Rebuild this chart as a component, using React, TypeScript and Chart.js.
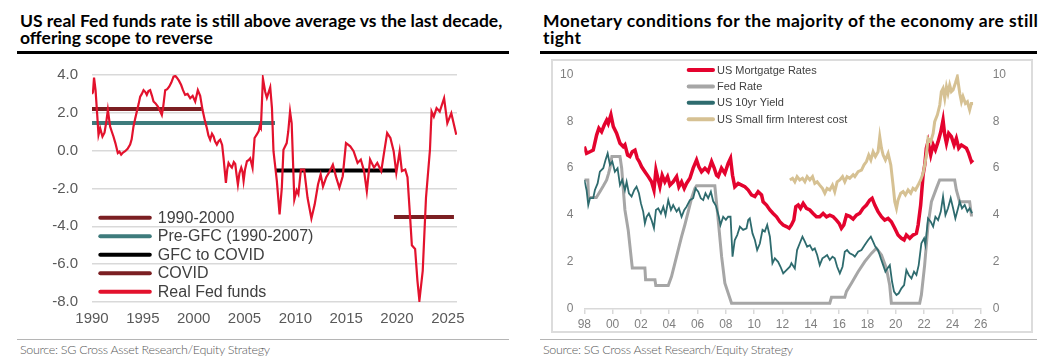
import React, { useEffect, useRef } from "react";
import { Chart, registerables } from "chart.js";

Chart.register(...registerables);

// ---------------- Left chart data ----------------
const leftTitle = ["US real Fed funds rate is still above average vs the last decade,", "offering scope to reverse"];
const rightTitle = ["Monetary conditions for the majority of the economy are still", "tight"];
const sourceText = "Source: SG Cross Asset Research/Equity Strategy";

const realFedYears = [
  1990.0, 1990.1, 1990.2, 1990.35, 1990.5, 1990.64, 1990.8, 1991.03, 1991.23, 1991.4, 1991.56, 1991.78, 1991.95,
  1992.11, 1992.3, 1992.54, 1992.7, 1992.87, 1993.05, 1993.26, 1993.5, 1993.75, 1993.9, 1994.08, 1994.25, 1994.41,
  1994.6, 1994.74, 1994.9, 1995.07, 1995.25, 1995.39, 1995.55, 1995.72, 1995.9, 1996.05, 1996.25, 1996.48, 1996.7,
  1996.87, 1997.0, 1997.2, 1997.4, 1997.59, 1997.8, 1998.02, 1998.2, 1998.35, 1998.55, 1998.77, 1998.95, 1999.16,
  1999.4, 1999.66, 1999.9, 2000.15, 2000.41, 2000.64, 2000.87, 2001.1, 2001.3, 2001.45, 2001.62, 2001.8, 2001.96,
  2002.1, 2002.28, 2002.45, 2002.61, 2002.8, 2002.94, 2003.17, 2003.3, 2003.43, 2003.6, 2003.76, 2003.95, 2004.09,
  2004.2, 2004.35, 2004.5, 2004.68, 2004.8, 2004.91, 2005.05, 2005.24, 2005.4, 2005.56, 2005.7, 2005.79, 2005.99,
  2006.2, 2006.39, 2006.5, 2006.61, 2006.81, 2007.04, 2007.2, 2007.53, 2007.7, 2007.85, 2008.18, 2008.45, 2008.67,
  2008.83, 2009.15, 2009.3, 2009.48, 2009.64, 2009.9, 2010.13, 2010.3, 2010.55, 2010.87, 2011.2, 2011.58, 2011.9,
  2012.23, 2012.49, 2012.72, 2013.04, 2013.37, 2013.69, 2014.01, 2014.33, 2014.66, 2014.98, 2015.4, 2015.73,
  2016.12, 2016.44, 2016.76, 2017.03, 2017.35, 2017.74, 2018.06, 2018.45, 2018.7, 2019.03, 2019.35, 2019.67,
  2019.93, 2020.26, 2020.48, 2020.81, 2021.03, 2021.29, 2021.46, 2021.78, 2022.01, 2022.2, 2022.53, 2022.85,
  2023.24, 2023.4, 2023.62, 2023.89, 2024.2, 2024.63, 2024.95, 2025.34, 2025.83,
];
const realFedValues = [
  3.0, 3.1, 3.86, 3.2, 2.0, 0.84, 1.19, 0.75, 0.95, 1.5, 2.16, 1.28, 1.0,
  0.75, 0.4, -0.12, -0.05, -0.21, -0.1, -0.03, 0.1, 0.32, 0.6, 1.28, 1.7, 2.07,
  2.5, 2.86, 3.0, 3.2, 3.1, 2.95, 3.15, 3.2, 2.9, 2.6, 2.5, 2.33, 2.1,
  1.89, 2.3, 3.2, 3.25, 3.38, 3.6, 3.91, 3.95, 3.86, 3.7, 3.47, 3.2, 2.95,
  3.0, 2.77, 2.9, 2.6, 3.2, 2.9, 2.16, 1.6, 1.19, 0.8, 0.58, 0.9, 0.75,
  0.5, 0.32, 0.5, 0.58, 0.3, -0.39, -1.7, -1.0, -0.65, -0.8, -0.9, -0.6, -0.7,
  -1.2, -1.79, -1.2, -0.9, -1.1, -1.6, -1.0, -0.56, -0.5, -0.4, -0.7, -0.9, 0.67,
  0.85, 1.02, 1.3, 1.19, 3.82, 3.1, 2.8, 3.35, 2.25, -0.03, -1.6, -3.37, -1.96,
  0.05, 0.4, 1.0, 2.07, 1.45, -2.58, -2.1, -2.3, -1.0, -1.0, -2.49, -3.58, -2.85,
  -1.79, -1.26, -1.9, -1.4, -1.1, -0.74, -1.4, -1.96, -1.35, 0.4, 0.23, -0.03,
  -0.65, -0.47, -1.08, -2.14, -0.47, -0.9, -0.65, -1.08, -0.2, 0.93, 0.67, -0.03,
  -1.17, -0.03, -1.08, -1.0, -1.4, -3.54, -5.0, -5.2, -6.88, -7.93, -6.35, -2.49,
  0.05, 2.07, 1.8, 2.25, 2.07, 2.77, 1.45, 1.98, 0.84,
];

const periodLabels = ["1990-2000", "Pre-GFC (1990-2007)", "GFC to COVID", "COVID"];
const periodStarts = [1990, 1990, 2008.0, 2019.7];
const periodEnds = [2000.8, 2008.0, 2020.0, 2025.6];
const periodValues = [2.2, 1.46, -1.05, -3.51];
const periodColors = ["#7b1f22", "#3e7b7c", "#000000", "#7b1f22"];
const realFedLabel = "Real Fed funds";

const leftXTicks = [1990, 1995, 2000, 2005, 2010, 2015, 2020, 2025];
const leftYTicks = [-8, -6, -4, -2, 0, 2, 4];

// ---------------- Right chart data ----------------
const mortgageYears = [
  1998.0, 1998.16, 1998.4, 1998.63, 1998.87, 1999.03, 1999.22, 1999.41, 1999.58, 1999.69, 1999.88, 2000.05,
  2000.28, 2000.52, 2000.75, 2000.87, 2001.06, 2001.22, 2001.39, 2001.58, 2001.74, 2001.88, 2002.05, 2002.28,
  2002.52, 2002.75, 2002.92, 2003.06, 2003.22, 2003.34, 2003.5, 2003.69, 2003.88, 2004.05, 2004.28, 2004.52,
  2004.68, 2004.87, 2005.06, 2005.22, 2005.46, 2005.69, 2005.93, 2006.09, 2006.28, 2006.52, 2006.75, 2006.99,
  2007.18, 2007.34, 2007.46, 2007.69, 2007.93, 2008.16, 2008.33, 2008.47, 2008.63, 2008.87, 2009.11, 2009.34,
  2009.58, 2009.81, 2010.05, 2010.28, 2010.52, 2010.63, 2010.87, 2011.11, 2011.34, 2011.58, 2011.81, 2012.05,
  2012.28, 2012.47, 2012.63, 2012.8, 2012.94, 2013.11, 2013.27, 2013.46, 2013.69, 2013.93, 2014.16, 2014.4,
  2014.63, 2014.87, 2015.11, 2015.34, 2015.58, 2015.81, 2016.0, 2016.16, 2016.33, 2016.52, 2016.75, 2016.99,
  2017.22, 2017.46, 2017.69, 2017.93, 2018.16, 2018.33, 2018.52, 2018.75, 2018.99, 2019.22, 2019.46, 2019.69,
  2019.93, 2020.16, 2020.4, 2020.59, 2020.75, 2020.99, 2021.22, 2021.46, 2021.58, 2021.76, 2021.93, 2022.05,
  2022.16, 2022.28, 2022.47, 2022.64, 2022.8, 2022.99, 2023.18, 2023.34, 2023.46, 2023.58, 2023.74, 2023.93,
  2024.12, 2024.28, 2024.45, 2024.64, 2024.82, 2024.99, 2025.15, 2025.34, 2025.46,
];
const mortgageValues = [
  6.92, 6.63, 6.7, 6.77, 7.41, 7.7, 7.55, 7.84, 8.05, 7.9, 8.27, 7.77,
  7.49, 7.06, 6.92, 7.0, 6.56, 6.5, 6.7, 6.77, 6.42, 6.28, 6.06, 5.85,
  5.64, 5.42, 5.07, 5.92, 5.5, 5.21, 5.7, 5.42, 5.64, 5.28, 5.42, 5.64,
  5.21, 5.42, 5.14, 5.35, 5.57, 6.0, 6.35, 6.06, 5.85, 6.0, 5.85, 6.28,
  6.0, 5.7, 5.64, 6.0, 5.78, 6.2, 6.42, 5.7, 5.21, 5.35, 5.28, 5.21,
  5.07, 4.86, 4.79, 5.0, 4.86, 4.57, 4.43, 4.22, 4.07, 3.93, 3.72, 3.58,
  3.51, 3.44, 3.58, 3.79, 4.36, 4.43, 4.29, 4.5, 4.29, 4.22, 4.07, 3.93,
  3.93, 4.07, 3.93, 4.0, 3.93, 3.79, 3.65, 3.44, 3.58, 4.0, 3.95, 3.83,
  4.0, 4.08, 4.29, 4.43, 4.64, 4.72, 4.43, 4.15, 3.93, 3.79, 3.86, 3.72,
  3.44, 3.15, 3.01, 2.94, 3.15, 3.01, 3.15, 3.22, 3.58, 4.43, 5.71, 6.14,
  6.85, 7.13, 6.56, 7.0, 6.78, 7.13, 7.55, 8.05, 7.41, 7.06, 7.48, 7.34,
  6.99, 7.27, 6.85, 6.99, 6.92, 6.85, 6.63, 6.28, 6.35,
];

const fedYears = [
  1998.0, 1998.25, 1998.3, 1998.85, 1999.1, 1999.35, 1999.58, 1999.7, 1999.81, 1999.95, 2000.52, 2000.64,
  2000.87, 2001.1, 2001.39, 2002.28, 2002.33, 2002.99, 2003.05, 2003.93, 2004.16, 2004.4, 2004.63, 2004.87,
  2005.1, 2005.34, 2005.58, 2005.81, 2005.93, 2007.22, 2007.46, 2007.7, 2007.93, 2008.4, 2015.34, 2015.46,
  2016.4, 2016.52, 2016.87, 2017.34, 2017.81, 2018.28, 2018.63, 2018.99, 2019.34, 2019.57, 2019.69, 2021.69,
  2021.81, 2022.04, 2022.28, 2022.52, 2022.87, 2023.1, 2024.16, 2024.28, 2024.51, 2025.22, 2025.34, 2025.45,
];
const fedValues = [
  5.5, 5.5, 4.75, 4.75, 5.0, 5.25, 5.5, 5.75, 6.0, 6.5, 6.5, 6.0,
  4.22, 3.37, 1.75, 1.75, 1.25, 1.25, 1.0, 1.0, 1.38, 1.95, 2.51, 3.08,
  3.58, 4.15, 4.72, 5.14, 5.25, 5.25, 3.79, 2.23, 1.1, 0.25, 0.25, 0.5,
  0.5, 0.75, 1.1, 1.59, 2.02, 2.37, 2.59, 2.3, 1.73, 1.02, 0.25, 0.25,
  0.6, 1.87, 3.58, 4.57, 5.14, 5.5, 5.5, 5.07, 4.57, 4.57, 4.0, 4.0,
];

const tenYrYears = [
  1998.0, 1998.16, 1998.28, 1998.4, 1998.63, 1998.75, 1998.94, 1999.1, 1999.34, 1999.5, 1999.65, 1999.81,
  1999.98, 2000.16, 2000.35, 2000.52, 2000.68, 2000.87, 2000.99, 2001.15, 2001.34, 2001.53, 2001.69, 2001.86,
  2002.0, 2002.16, 2002.28, 2002.4, 2002.56, 2002.75, 2002.92, 2003.06, 2003.22, 2003.41, 2003.58, 2003.74,
  2003.93, 2004.12, 2004.28, 2004.52, 2004.68, 2004.87, 2005.06, 2005.22, 2005.46, 2005.69, 2005.86, 2006.05,
  2006.23, 2006.4, 2006.56, 2006.75, 2006.94, 2007.1, 2007.3, 2007.5, 2007.62, 2007.81, 2008.0, 2008.16,
  2008.33, 2008.47, 2008.63, 2008.8, 2008.99, 2009.22, 2009.46, 2009.58, 2009.69, 2009.88, 2010.05, 2010.21,
  2010.4, 2010.59, 2010.75, 2010.92, 2011.11, 2011.29, 2011.46, 2011.69, 2011.86, 2012.05, 2012.28, 2012.52,
  2012.63, 2012.87, 2013.03, 2013.22, 2013.41, 2013.58, 2013.74, 2013.93, 2014.12, 2014.28, 2014.45, 2014.63,
  2014.82, 2014.99, 2015.15, 2015.34, 2015.53, 2015.69, 2015.86, 2016.05, 2016.24, 2016.4, 2016.56, 2016.75,
  2016.99, 2017.11, 2017.34, 2017.58, 2017.81, 2018.05, 2018.24, 2018.4, 2018.56, 2018.75, 2018.94, 2019.11,
  2019.27, 2019.41, 2019.58, 2019.74, 2019.88, 2020.05, 2020.21, 2020.4, 2020.59, 2020.75, 2020.92, 2021.11,
  2021.29, 2021.46, 2021.62, 2021.81, 2022.0, 2022.09, 2022.28, 2022.47, 2022.64, 2022.8, 2022.99, 2023.18,
  2023.34, 2023.51, 2023.69, 2023.88, 2024.05, 2024.21, 2024.4, 2024.52, 2024.68, 2024.87, 2025.06, 2025.22,
  2025.39,
];
const tenYrValues = [
  5.5, 5.07, 4.43, 4.72, 4.72, 5.07, 5.35, 5.85, 6.0, 6.35, 6.63, 6.14,
  6.28, 5.85, 6.0, 5.28, 5.5, 5.07, 5.42, 4.93, 4.79, 5.07, 5.21, 4.93,
  4.5, 4.15, 3.65, 3.93, 4.07, 3.79, 3.44, 4.22, 4.29, 4.07, 4.36, 4.0,
  4.64, 4.22, 4.43, 4.15, 4.29, 3.93, 4.22, 4.36, 4.64, 4.72, 5.14, 5.0,
  4.72, 4.64, 4.93, 4.72, 5.0, 4.6, 4.4, 3.93, 3.58, 3.93, 3.8, 3.93,
  3.93, 2.23, 2.94, 3.15, 3.51, 3.37, 3.44, 3.79, 3.86, 3.22, 2.94, 2.51,
  2.79, 3.37, 3.3, 3.58, 3.08, 1.95, 2.16, 2.01, 1.8, 1.52, 1.66, 1.8,
  1.95, 1.73, 2.51, 2.8, 3.08, 2.87, 2.65, 2.72, 2.51, 2.58, 2.3, 1.87,
  2.16, 2.23, 2.3, 2.09, 2.23, 2.16, 1.8, 1.52, 1.8, 2.44, 2.51, 2.37,
  2.3, 2.23, 2.44, 2.51, 2.73, 2.94, 3.08, 2.87, 2.65, 2.51, 2.16, 1.87,
  1.59, 1.73, 1.87, 1.16, 0.74, 0.6, 0.67, 0.88, 1.02, 1.66, 1.45, 1.3,
  1.59, 1.45, 1.87, 2.8, 3.01, 2.73, 3.86, 3.72, 3.51, 3.93, 3.79, 4.15,
  4.79, 4.0, 4.29, 4.72, 4.29, 3.86, 4.29, 4.57, 4.29, 4.43, 4.15, 4.29,
  4.08,
];

const smallFirmYears = [
  2012.52, 2012.71, 2012.87, 2013.03, 2013.22, 2013.41, 2013.58, 2013.74, 2013.93, 2014.12, 2014.28, 2014.45,
  2014.63, 2014.82, 2014.99, 2015.15, 2015.34, 2015.53, 2015.69, 2015.86, 2016.05, 2016.24, 2016.4, 2016.56,
  2016.75, 2016.99, 2017.11, 2017.34, 2017.58, 2017.76, 2017.93, 2018.09, 2018.24, 2018.4, 2018.56, 2018.75,
  2018.87, 2018.99, 2019.11, 2019.27, 2019.46, 2019.65, 2019.81, 2019.93, 2020.05, 2020.16, 2020.35, 2020.52,
  2020.68, 2020.87, 2021.06, 2021.22, 2021.39, 2021.58, 2021.76, 2021.93, 2022.05, 2022.16, 2022.28, 2022.47,
  2022.64, 2022.75, 2022.94, 2023.11, 2023.22, 2023.34, 2023.46, 2023.58, 2023.69, 2023.81, 2023.93, 2024.05,
  2024.21, 2024.35, 2024.52, 2024.64, 2024.75, 2024.92, 2025.06, 2025.22, 2025.34, 2025.46,
];
const smallFirmValues = [
  5.5, 5.57, 5.42, 5.64, 5.5, 5.57, 5.42, 5.64, 5.5, 5.64, 5.35, 5.42,
  5.28, 5.14, 4.93, 5.14, 5.07, 5.28, 5.0, 5.42, 5.5, 5.64, 5.42, 5.64,
  5.57, 5.72, 5.64, 5.85, 5.92, 6.14, 6.28, 6.56, 6.35, 6.7, 6.5, 6.7,
  7.34, 6.85, 6.56, 6.35, 6.63, 6.14, 5.28, 4.57, 4.29, 4.64, 4.93, 5.0,
  4.86, 5.07, 4.93, 5.14, 5.07, 5.28, 5.5, 5.78, 6.14, 6.56, 7.27, 7.13,
  7.48, 7.98, 8.27, 8.69, 9.26, 9.4, 8.98, 9.47, 9.19, 9.54, 9.26, 9.33,
  9.62, 9.9, 9.19, 8.83, 9.05, 8.76, 8.83, 8.48, 8.76, 8.76,
];

const rightSeriesLabels = ["US Mortgatge Rates", "Fed Rate", "US 10yr Yield", "US Small firm Interest cost"];
const rightSeriesColors = ["#e4032e", "#a6a6a6", "#2e6b6e", "#d6c193"];
const rightXTicks = [1998, 2000, 2002, 2004, 2006, 2008, 2010, 2012, 2014, 2016, 2018, 2020, 2022, 2024, 2026];
const rightYTicks = [0, 2, 4, 6, 8, 10];

// ---------------- helpers ----------------
const zip = (xs: number[], ys: number[]) => xs.map((x, i) => ({ x, y: ys[i] }));

type LegendCfg = {
  items: { text: string; color: string }[];
  dx: number;
  dy: number;
  rowH: number;
  swatchW: number;
  swatchH: number;
  gap: number;
  font: string;
  textColor: string;
};

function legendPlugin(id: string, cfg: LegendCfg) {
  return {
    id,
    afterDatasetsDraw(chart: any) {
      const { ctx, chartArea } = chart;
      ctx.save();
      ctx.font = cfg.font;
      ctx.textBaseline = "middle";
      ctx.textAlign = "left";
      cfg.items.forEach((it, i) => {
        const x = chartArea.left + cfg.dx;
        const y = chartArea.top + cfg.dy + i * cfg.rowH;
        ctx.strokeStyle = it.color;
        ctx.lineWidth = cfg.swatchH;
        ctx.lineCap = "round";
        ctx.beginPath();
        ctx.moveTo(x + cfg.swatchH / 2, y);
        ctx.lineTo(x + cfg.swatchW - cfg.swatchH / 2, y);
        ctx.stroke();
        ctx.fillStyle = cfg.textColor;
        ctx.fillText(it.text, x + cfg.swatchW + cfg.gap, y + 0.5);
      });
      ctx.restore();
    },
  };
}

function ChartCanvas(props: { make: () => any; left: number; top: number; width: number; height: number }) {
  const ref = useRef<HTMLCanvasElement>(null);
  useEffect(() => {
    const chart = new Chart(ref.current as HTMLCanvasElement, props.make());
    return () => chart.destroy();
  }, []);
  return (
    <canvas
      ref={ref}
      width={props.width}
      height={props.height}
      style={{ position: "absolute", left: props.left, top: props.top, width: props.width, height: props.height }}
    />
  );
}

const LEFT_FONT = "'Liberation Sans', Arial, sans-serif";

const fixVertical = (w: number) => (s: any) => {
  s.width = w;
  s.paddingTop = 0;
  s.paddingBottom = 0;
};
const fixHorizontal = (h: number) => (s: any) => {
  s.height = h;
  s.paddingLeft = 0;
  s.paddingRight = 0;
};

function makeLeftConfig() {
  const datasets: any[] = [
    {
      label: realFedLabel,
      data: zip(realFedYears, realFedValues),
      borderColor: "#e3122d",
      borderWidth: 2.2,
      pointRadius: 0,
      tension: 0,
      order: 0,
    },
    ...periodLabels.map((l, i) => ({
      label: l,
      data: [
        { x: periodStarts[i], y: periodValues[i] },
        { x: periodEnds[i], y: periodValues[i] },
      ],
      borderColor: periodColors[i],
      borderWidth: 4,
      pointRadius: 0,
      borderCapStyle: "butt",
      order: 1 + i,
    })),
  ];
  const legendItems = [
    ...periodLabels.map((l, i) => ({ text: l, color: periodColors[i] })),
    { text: realFedLabel, color: "#e3122d" },
  ];
  return {
    type: "line",
    data: { datasets },
    options: {
      animation: false,
      responsive: false,
      devicePixelRatio: 1,
      layout: { padding: { top: 15, right: 43, bottom: 0, left: 0 } },
      plugins: { legend: { display: false }, tooltip: { enabled: false } },
      scales: {
        x: {
          type: "linear",
          min: 1990,
          max: 2025.9,
          grid: { display: false, drawTicks: false },
          border: { display: false },
          afterBuildTicks: (s: any) => {
            s.ticks = leftXTicks.map((v) => ({ value: v }));
          },
          afterFit: fixHorizontal(33),
          ticks: {
            padding: 8,
            color: "#595959",
            font: { family: LEFT_FONT, size: 15 },
            maxRotation: 0,
            autoSkip: false,
            callback: (v: any) => String(v),
          },
        },
        y: {
          type: "linear",
          min: -8,
          max: 4,
          grid: { color: "#d9d9d9", lineWidth: 1.5, drawTicks: false },
          border: { display: false },
          afterBuildTicks: (s: any) => {
            s.ticks = leftYTicks.map((v) => ({ value: v }));
          },
          afterFit: fixVertical(92),
          ticks: {
            padding: 14,
            color: "#595959",
            font: { family: LEFT_FONT, size: 15 },
            callback: (v: any) => Number(v).toFixed(1),
          },
        },
      },
    },
    plugins: [
      legendPlugin("leftLegend", {
        items: legendItems,
        dx: 6.3,
        dy: 142.7,
        rowH: 18.5,
        swatchW: 53.5,
        swatchH: 4,
        gap: 6,
        font: `16px ${LEFT_FONT}`,
        textColor: "#404040",
      }),
    ],
  };
}

function makeRightConfig() {
  const xs = [mortgageYears, fedYears, tenYrYears, smallFirmYears];
  const ys = [mortgageValues, fedValues, tenYrValues, smallFirmValues];
  const widths = [3.5, 3, 1.8, 3];
  const datasets = rightSeriesLabels.map((l, i) => ({
    label: l,
    data: zip(xs[i], ys[i]),
    borderColor: rightSeriesColors[i],
    borderWidth: widths[i],
    pointRadius: 0,
    tension: 0,
    order: 4 - i,
    yAxisID: "y",
  }));
  const tickFont = { family: LEFT_FONT, size: 12 };
  return {
    type: "line",
    data: { datasets },
    options: {
      animation: false,
      responsive: false,
      devicePixelRatio: 1,
      layout: { padding: { top: 12.3, right: 0, bottom: 0, left: 0 } },
      plugins: { legend: { display: false }, tooltip: { enabled: false } },
      scales: {
        x: {
          type: "linear",
          min: 1998,
          max: 2026,
          grid: { display: true, drawOnChartArea: false, drawTicks: true, tickLength: 5, color: "#d9d9d9", lineWidth: 1.5 },
          border: { display: true, color: "#d9d9d9", width: 1.5 },
          afterBuildTicks: (s: any) => {
            s.ticks = rightXTicks.map((v) => ({ value: v }));
          },
          afterFit: fixHorizontal(28),
          ticks: {
            padding: 3,
            color: "#7f7f7f",
            font: tickFont,
            maxRotation: 0,
            autoSkip: false,
            callback: (v: any) => String(Number(v) % 100).padStart(2, "0"),
          },
        },
        y: {
          type: "linear",
          position: "left",
          min: 0,
          max: 10,
          grid: { display: false, drawTicks: false },
          border: { display: false },
          afterBuildTicks: (s: any) => {
            s.ticks = rightYTicks.map((v) => ({ value: v }));
          },
          afterFit: fixVertical(31.3),
          ticks: { padding: 11, color: "#7f7f7f", font: tickFont, callback: (v: any) => String(v) },
        },
        y2: {
          type: "linear",
          position: "right",
          min: 0,
          max: 10,
          grid: { display: false, drawTicks: false },
          border: { display: false },
          afterBuildTicks: (s: any) => {
            s.ticks = rightYTicks.map((v) => ({ value: v }));
          },
          afterFit: fixVertical(49.3),
          ticks: { padding: 12, color: "#7f7f7f", font: tickFont, callback: (v: any) => String(v) },
        },
      },
    },
    plugins: [
      legendPlugin("rightLegend", {
        items: rightSeriesLabels.map((l, i) => ({ text: l, color: rightSeriesColors[i] })),
        dx: 102.4,
        dy: -4.3,
        rowH: 16.4,
        swatchW: 28.3,
        swatchH: 4,
        gap: 2,
        font: `11px ${LEFT_FONT}`,
        textColor: "#404040",
      }),
    ],
  };
}

const titleStyle: React.CSSProperties = {
  position: "absolute",
  top: 13,
  fontFamily: "Lato, 'Noto Sans', sans-serif",
  fontWeight: 700,
  fontSize: 17.5,
  lineHeight: "16.5px",
  color: "#000",
  whiteSpace: "nowrap",
};

const sourceStyle: React.CSSProperties = {
  position: "absolute",
  top: 342,
  fontFamily: "Lato, 'Noto Sans', sans-serif",
  fontWeight: 300,
  fontSize: 12.5,
  lineHeight: "16px",
  color: "#595959",
  whiteSpace: "nowrap",
  letterSpacing: "-0.3px",
};

export default function App() {
  return (
    <div
      style={{
        position: "absolute",
        left: 0,
        top: 0,
        width: 1053,
        height: 362,
        background: "#fff",
        overflow: "hidden",
      }}
    >
      {/* Left panel */}
      <div style={{ ...titleStyle, left: 20 }}>
        {leftTitle[0]}
        <br />
        {leftTitle[1]}
      </div>
      <div style={{ position: "absolute", left: 17, top: 51, width: 492, height: 3, background: "#000" }} />
      <ChartCanvas make={makeLeftConfig} left={0} top={60} width={500} height={275} />
      <div style={{ position: "absolute", left: 17, top: 339, width: 492, height: 1, background: "#b5b5b5" }} />
      <div style={{ ...sourceStyle, left: 20 }}>{sourceText}</div>

      {/* Right panel */}
      <div style={{ ...titleStyle, left: 543, letterSpacing: "0.38px" }}>
        {rightTitle[0]}
        <br />
        {rightTitle[1]}
      </div>
      <div style={{ position: "absolute", left: 540, top: 51, width: 497, height: 3, background: "#000" }} />
      <div
        style={{
          position: "absolute",
          left: 551,
          top: 59,
          width: 482,
          height: 274,
          border: "2px solid #dcdcdc",
          boxSizing: "border-box",
        }}
      />
      <ChartCanvas make={makeRightConfig} left={553} top={62} width={477} height={275} />
      <div style={{ position: "absolute", left: 540, top: 339, width: 497, height: 1, background: "#b5b5b5" }} />
      <div style={{ ...sourceStyle, left: 543 }}>{sourceText}</div>
    </div>
  );
}
